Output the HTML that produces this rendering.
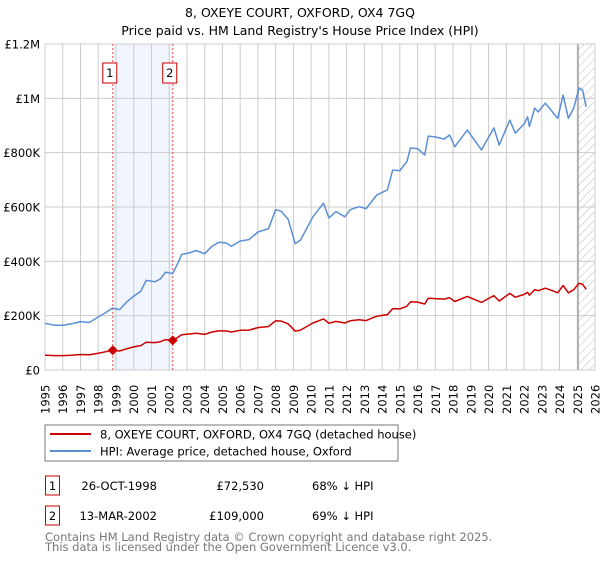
<!DOCTYPE html>
<html><head><meta charset="utf-8"><style>
body{margin:0;background:#fff;font-family:"Liberation Sans","DejaVu Sans",sans-serif}
svg text{font-family:"DejaVu Sans","Liberation Sans",sans-serif}
</style></head><body>
<svg id="c" width="600" height="560" xmlns="http://www.w3.org/2000/svg">
<defs><pattern id="hatch" width="6" height="6" patternUnits="userSpaceOnUse" patternTransform="rotate(45)"><line x1="0" y1="0" x2="0" y2="6" stroke="#bbb" stroke-width="1"/></pattern></defs>
<text x="300" y="17" text-anchor="middle" font-size="12.5" fill="#000">8, OXEYE COURT, OXFORD, OX4 7GQ</text>
<text x="300" y="35" text-anchor="middle" font-size="12.5" fill="#000">Price paid vs. HM Land Registry's House Price Index (HPI)</text>
<g id="grid"></g><g id="marks"></g><g id="axes"></g>
<rect x="45" y="425" width="353" height="36" fill="#fff" stroke="#777"/>
<line x1="50" y1="434" x2="91" y2="434" stroke="#cc0000" stroke-width="2"/>
<text x="100" y="438.5" font-size="11.5">8, OXEYE COURT, OXFORD, OX4 7GQ (detached house)</text>
<line x1="50" y1="451" x2="91" y2="451" stroke="#5b8fd4" stroke-width="2"/>
<text x="100" y="455.5" font-size="11.5">HPI: Average price, detached house, Oxford</text>
<g font-size="11.5">
<rect x="45.5" y="476" width="14" height="19" fill="#fff" stroke="#cc0000"/>
<text x="52.5" y="490" text-anchor="middle">1</text>
<text x="157" y="490" text-anchor="end">26-OCT-1998</text>
<text x="264" y="490" text-anchor="end">£72,530</text>
<text x="312" y="490">68% ↓ HPI</text>
<rect x="45.5" y="506" width="14" height="19" fill="#fff" stroke="#cc0000"/>
<text x="52.5" y="520" text-anchor="middle">2</text>
<text x="157" y="520" text-anchor="end">13-MAR-2002</text>
<text x="264" y="520" text-anchor="end">£109,000</text>
<text x="312" y="520">69% ↓ HPI</text>
</g>
<text x="45" y="541" font-size="11.5" fill="#777">Contains HM Land Registry data © Crown copyright and database right 2025.</text>
<text x="45" y="551" font-size="11.5" fill="#777">This data is licensed under the Open Government Licence v3.0.</text>
</svg>
<script>
const years=[1995.0,1995.5,1996.0,1996.5,1997.0,1997.5,1998.0,1998.4,1998.8,1999.2,1999.6,2000.0,2000.4,2000.7,2001.2,2001.5,2001.8,2002.2,2002.5,2002.7,2003.2,2003.5,2004.0,2004.4,2004.8,2005.2,2005.5,2006.0,2006.5,2007.0,2007.6,2008.0,2008.3,2008.7,2009.1,2009.4,2010.1,2010.7,2011.0,2011.4,2011.9,2012.2,2012.7,2013.1,2013.7,2014.3,2014.6,2015.0,2015.4,2015.6,2016.0,2016.4,2016.6,2017.0,2017.5,2017.8,2018.1,2018.8,2019.2,2019.6,2020.3,2020.6,2021.2,2021.5,2022.0,2022.2,2022.3,2022.6,2022.8,2023.2,2023.6,2023.9,2024.2,2024.5,2024.8,2025.1,2025.3,2025.5];
const hpiValues=[172,165,165,170,178,175,195,210,228,222,250,272,290,330,325,335,360,355,395,425,432,440,428,455,470,468,455,475,480,508,520,590,585,555,465,478,564,614,560,583,564,590,601,594,644,663,736,734,767,817,815,791,861,858,850,865,822,883,847,810,891,828,920,872,905,932,896,964,950,982,950,926,1012,926,964,1038,1030,969];
const propertyValues=[55,53,53,54,57,56,62,67,72.5,70,78,85,90,102,101,104,112,109,121,130,133,135,131,140,144,144,140,146,147,156,160,181,180,170,143,147,173,188,172,179,173,181,185,182,198,204,226,225,235,251,250,243,264,263,261,266,252,271,260,249,274,254,282,268,278,286,275,296,292,301,292,284,311,284,296,319,316,297];
const saleYears=[1998.82,2002.2];
const salePrices=[72.53,109];
const saleLabels=["1","2"];
const yTicks=[0,200,400,600,800,1000,1200];
const yTickLabels=["£0","£200K","£400K","£600K","£800K","£1M","£1.2M"];
const xTicks=[1995,1996,1997,1998,1999,2000,2001,2002,2003,2004,2005,2006,2007,2008,2009,2010,2011,2012,2013,2014,2015,2016,2017,2018,2019,2020,2021,2022,2023,2024,2025,2026];
const dataEnd=2025.05;
const X0=45,X1=595,Y0=370,Y1=44;
const x=v=>X0+(v-1995)/31*(X1-X0);
const y=v=>Y0-v/1200*(Y0-Y1);
const NS="http://www.w3.org/2000/svg";
function mk(p,tag,attrs){const e=document.createElementNS(NS,tag);for(const k in attrs)e.setAttribute(k,attrs[k]);p.appendChild(e);return e;}
const grid=document.getElementById('grid'),marks=document.getElementById('marks'),axes=document.getElementById('axes');
let band=mk(grid,'rect',{x:x(saleYears[0]),y:Y1,width:x(saleYears[1])-x(saleYears[0]),height:Y0-Y1,fill:'#eef3fc',opacity:0.8});


xTicks.forEach(t=>{
 let l=mk(grid,'line',{x1:x(t),x2:x(t),y1:Y1,y2:Y0,stroke:'#ccc','stroke-width':1});
 
 
 let tx=mk(axes,'text',{transform:`translate(${x(t)+4.5},${Y0+44}) rotate(-90)`,'font-size':11.5});
 tx.textContent=t;
 
 
});
yTicks.forEach((t,i)=>{
 let l=mk(grid,'line',{x1:X0,x2:X1,y1:y(t),y2:y(t),stroke:'#ccc','stroke-width':1});
 
 
 let tx=mk(axes,'text',{x:X0-5,y:y(t)+4.5,'text-anchor':'end','font-size':11.5});
 tx.textContent=yTickLabels[i];
 
 
});
let hatch=mk(grid,'rect',{x:x(dataEnd),y:Y1,width:X1-x(dataEnd),height:Y0-Y1,fill:'url(#hatch)'});


let el=mk(grid,'line',{x1:x(dataEnd),x2:x(dataEnd),y1:Y1,y2:Y0,stroke:'#999','stroke-width':1.2});


let pb=mk(grid,'rect',{x:X0,y:Y1,width:X1-X0,height:Y0-Y1,fill:'none',stroke:'#ccc'});


saleYears.forEach((s,i)=>{
 let l=mk(marks,'line',{x1:x(s),x2:x(s),y1:Y1,y2:Y0,stroke:'#e05050','stroke-dasharray':'2,2','stroke-width':1});
 
 
 let r=mk(marks,'rect',{x:x(s)-10,y:63,width:14,height:20,fill:'#fff',stroke:'#cc0000'});
 
 
 let t=mk(marks,'text',{x:x(s)-3,y:77,'text-anchor':'middle','font-size':11.5});
 t.textContent=saleLabels[i];
 
 
});
const path=vals=>years.map((yr,i)=>(i?'L':'M')+x(yr).toFixed(1)+','+y(vals[i]).toFixed(1)).join('');
let hp=mk(marks,'path',{d:path(hpiValues),fill:'none',stroke:'#5b8fd4','stroke-width':1.5,'stroke-linejoin':'round'});


let pp=mk(marks,'path',{d:path(propertyValues),fill:'none',stroke:'#cc0000','stroke-width':1.5,'stroke-linejoin':'round'});


saleYears.forEach((s,i)=>{
 const cx=x(s),cy=y(salePrices[i]);
 let d=mk(marks,'polygon',{points:`${cx},${cy-5} ${cx+5},${cy} ${cx},${cy+5} ${cx-5},${cy}`,fill:'#cc0000'});
 
 
});
</script>
</body></html>
